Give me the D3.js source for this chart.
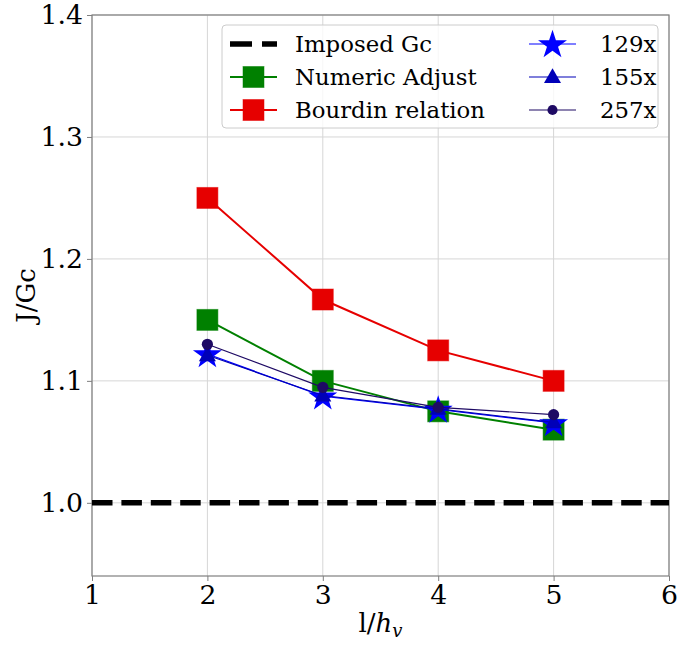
<!DOCTYPE html>
<html><head><meta charset="utf-8">
<script src="https://cdn.jsdelivr.net/npm/d3@7"></script>
<style>body{margin:0;background:#fff}svg{display:block}text{font-family:"DejaVu Serif",serif}</style>
</head><body><div id="chart"></div>
<script>
const xValues = [2, 3, 4, 5];
const imposedGc = 1.0;
const numericAdjust = [1.15, 1.10, 1.075, 1.06];
const bourdin = [1.25, 1.1667, 1.125, 1.10];
const mesh129 = [1.122, 1.0875, 1.0765, 1.0655];
const mesh155 = [1.121, 1.088, 1.077, 1.066];
const mesh257 = [1.13, 1.0947, 1.0783, 1.0723];
const xTicks = [1, 2, 3, 4, 5, 6];
const yTicks = [1.0, 1.1, 1.2, 1.3, 1.4];
const legendLeft = ["Imposed Gc", "Numeric Adjust", "Bourdin relation"];
const legendRight = ["129x", "155x", "257x"];

const W = 679, H = 645;
const m = {left: 92, right: 10, top: 15, bottom: 69};
const svg = d3.select("#chart").append("svg").attr("width", W).attr("height", H);
const x = d3.scaleLinear().domain([1, 6]).range([m.left, W - m.right]);
const y = d3.scaleLinear().domain([0.94, 1.4]).range([H - m.bottom, m.top]);
const gridC = "#d6d6d6", spineC = "#7f7f7f";

// grid
svg.append("g").selectAll("line").data(xTicks).join("line")
  .attr("x1", d => x(d)).attr("x2", d => x(d)).attr("y1", y.range()[0]).attr("y2", y.range()[1])
  .attr("stroke", gridC).attr("stroke-width", 1);
svg.append("g").selectAll("line").data(yTicks).join("line")
  .attr("y1", d => y(d)).attr("y2", d => y(d)).attr("x1", x.range()[0]).attr("x2", x.range()[1])
  .attr("stroke", gridC).attr("stroke-width", 1);

// axes
const fs = 26.7;
const xAx = svg.append("g").attr("transform", `translate(0,${y.range()[0]})`)
  .call(d3.axisBottom(x).tickValues(xTicks).tickFormat(d3.format("d")).tickSize(5).tickPadding(4).tickSizeOuter(0));
const yAx = svg.append("g").attr("transform", `translate(${x.range()[0]},0)`)
  .call(d3.axisLeft(y).tickValues(yTicks).tickFormat(d3.format(".1f")).tickSize(5).tickPadding(4).tickSizeOuter(0));
[xAx, yAx].forEach(g => {
  g.selectAll("text").attr("font-family", "DejaVu Serif").attr("font-size", fs).attr("fill", "#000");
  g.selectAll("line").attr("stroke", spineC);
  g.select(".domain").remove();
});
svg.append("rect").attr("x", x.range()[0]).attr("y", y.range()[1])
  .attr("width", x.range()[1] - x.range()[0]).attr("height", y.range()[0] - y.range()[1])
  .attr("fill", "none").attr("stroke", spineC).attr("stroke-width", 1.2);

// labels
svg.append("text").attr("transform", `translate(35,${(y.range()[0] + y.range()[1]) / 2}) rotate(-90)`)
  .attr("text-anchor", "middle").attr("font-size", 26).text("J/Gc");
const xl = svg.append("text").attr("x", (x.range()[0] + x.range()[1]) / 2).attr("y", 632)
  .attr("text-anchor", "middle").attr("font-size", 26);
xl.append("tspan").text("l/");
xl.append("tspan").attr("font-style", "italic").text("h");
xl.append("tspan").attr("font-style", "italic").attr("font-size", 18).attr("dy", 5).text("v");

// data series
const line = d3.line().x(d => x(d[0])).y(d => y(d[1]));
const star = d3.symbol().type(d3.symbolStar).size(260);
const tri = d3.symbol().type(d3.symbolTriangle).size(125);
const series = [
  {vals: numericAdjust, color: "#008000", lw: 2, marker: "square", ms: 21},
  {vals: bourdin, color: "#e60000", lw: 2, marker: "square", ms: 21},
  {vals: mesh129, color: "#0000ff", lw: 1.2, marker: "star"},
  {vals: mesh155, color: "#0000b8", lw: 1.2, marker: "tri"},
  {vals: mesh257, color: "#1e0a64", lw: 1.2, marker: "circle", r: 5.6}
];

// imposed Gc dashed
svg.append("line").attr("x1", x.range()[0]).attr("x2", x.range()[1])
  .attr("y1", y(imposedGc)).attr("y2", y(imposedGc))
  .attr("stroke", "#000").attr("stroke-width", 5.5).attr("stroke-dasharray", "20.5 8.9");

function drawMarker(g, s, cx, cy, scale) {
  scale = scale || 1;
  if (s.marker === "square") {
    const a = s.ms * scale;
    g.append("rect").attr("x", cx - a / 2).attr("y", cy - a / 2).attr("width", a).attr("height", a)
      .attr("fill", s.color).attr("stroke", s.color).attr("stroke-opacity", 0.5).attr("stroke-width", 1);
  } else if (s.marker === "star") {
    g.append("path").attr("d", star).attr("transform", `translate(${cx},${cy + 1}) scale(${scale})`).attr("fill", s.color);
  } else if (s.marker === "tri") {
    g.append("path").attr("d", tri).attr("transform", `translate(${cx},${cy + 1}) scale(${scale})`).attr("fill", s.color);
  } else {
    g.append("circle").attr("cx", cx).attr("cy", cy).attr("r", s.r * scale).attr("fill", s.color);
  }
}

series.forEach(s => {
  const pts = xValues.map((xv, i) => [xv, s.vals[i]]);
  const g = svg.append("g");
  g.append("path").attr("d", line(pts)).attr("fill", "none").attr("stroke", s.color).attr("stroke-width", s.lw);
  pts.forEach(p => drawMarker(g, s, x(p[0]), y(p[1])));
});

// legend
const lg = svg.append("g");
lg.append("rect").attr("x", 222).attr("y", 25).attr("width", 436).attr("height", 103).attr("rx", 4)
  .attr("fill", "#fff").attr("fill-opacity", 0.8).attr("stroke", "#cccccc").attr("stroke-width", 1);
const rows = [44, 77, 110];
const lfs = 22.8;
legendLeft.forEach((t, i) => {
  const yy = rows[i];
  if (i === 0) {
    lg.append("line").attr("x1", 230).attr("x2", 277).attr("y1", yy).attr("y2", yy)
      .attr("stroke", "#000").attr("stroke-width", 5.5).attr("stroke-dasharray", "22 10");
  } else {
    const s = series[i - 1];
    lg.append("line").attr("x1", 230).attr("x2", 277).attr("y1", yy).attr("y2", yy).attr("stroke", s.color).attr("stroke-width", s.lw);
    drawMarker(lg, s, 253.5, yy);
  }
  lg.append("text").attr("x", 295).attr("y", yy + 8).attr("font-size", lfs).text(t);
});
legendRight.forEach((t, i) => {
  const yy = rows[i];
  const s = series[i + 2];
  lg.append("line").attr("x1", 529).attr("x2", 576).attr("y1", yy).attr("y2", yy).attr("stroke", s.color).attr("stroke-width", s.lw);
  drawMarker(lg, s, 552.5, yy, s.marker === "circle" ? 0.9 : 1);
  lg.append("text").attr("x", 600).attr("y", yy + 8).attr("font-size", lfs).text(t);
});
</script></body></html>
